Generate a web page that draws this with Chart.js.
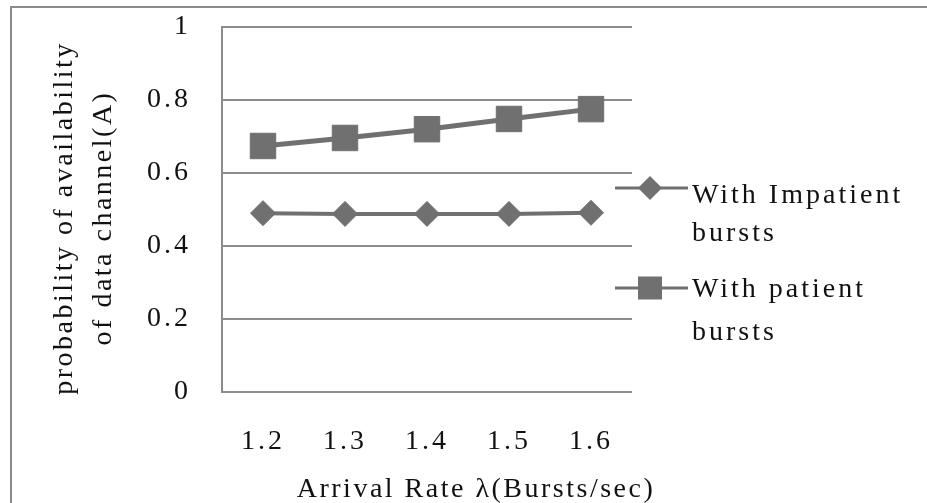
<!DOCTYPE html>
<html>
<head>
<meta charset="utf-8">
<script src="https://cdn.jsdelivr.net/npm/chart.js@4"></script>
<style>
  html, body { margin: 0; padding: 0; background: #fff; }
  canvas { display: block; }
</style>
</head>
<body>
<canvas id="chart" width="927" height="503"></canvas>
<script>
// Arrival rates (categories) and channel availability per burst type
const arrivalRates = ['1.2', '1.3', '1.4', '1.5', '1.6'];
const impatientValues = [0.490, 0.488, 0.488, 0.488, 0.491];
const patientValues = [0.674, 0.696, 0.720, 0.748, 0.775];
const seriesNames = [['With Impatient', 'bursts'], ['With patient', 'bursts']];
const yTitleLines = ['probability of availability', 'of data channel(A)'];
const xTitleText = 'Arrival Rate \u03bb(Bursts/sec)';

const FAMILY = "'Liberation Serif', 'Times New Roman', serif";
const TEXT = '#111';
const GRID = '#8c8c8c';
const MARK = '#707070';

const decorations = {
  id: 'decorations',
  beforeDraw(chart) {
    const ctx = chart.ctx;
    ctx.save();
    ctx.fillStyle = '#fff';
    ctx.fillRect(0, 0, chart.width, chart.height);
    ctx.restore();
    ctx.letterSpacing = '3px';
  },
  afterDraw(chart) {
    const ctx = chart.ctx;
    ctx.save();
    // outer frame
    ctx.strokeStyle = '#8a8a8a';
    ctx.lineWidth = 2;
    ctx.strokeRect(11, 7, 940, 520);

    ctx.fillStyle = TEXT;
    ctx.font = '28px ' + FAMILY;
    ctx.letterSpacing = '2.5px';
    ctx.textAlign = 'center';
    ctx.textBaseline = 'alphabetic';
    ctx.fillText(xTitleText, 476, 497);

    // rotated y title
    ctx.save();
    ctx.translate(72, 218);
    ctx.rotate(-Math.PI / 2);
    ctx.fillText(yTitleLines[0], 0, 0);
    ctx.fillText(yTitleLines[1], 0, 39);
    ctx.restore();

    // legend
    const items = [
      { y: 188, style: 'rectRot', baselines: [203, 241] },
      { y: 288, style: 'rect', baselines: [297, 340] }
    ];
    items.forEach((it, i) => {
      ctx.strokeStyle = MARK;
      ctx.lineWidth = 3;
      ctx.beginPath();
      ctx.moveTo(615, it.y);
      ctx.lineTo(688, it.y);
      ctx.stroke();
      ctx.fillStyle = MARK;
      ctx.beginPath();
      if (it.style === 'rect') {
        ctx.rect(638, it.y - 11.5, 24, 23);
      } else {
        ctx.moveTo(650, it.y - 12); ctx.lineTo(662, it.y);
        ctx.lineTo(650, it.y + 12); ctx.lineTo(638, it.y);
        ctx.closePath();
      }
      ctx.fill();
      ctx.fillStyle = TEXT;
      ctx.textAlign = 'left';
      ctx.letterSpacing = '3px';
      seriesNames[i].forEach((line, k) => ctx.fillText(line, 692, it.baselines[k]));
    });
    ctx.restore();
  }
};

function build() {
  new Chart(document.getElementById('chart'), {
    type: 'line',
    data: {
      labels: arrivalRates,
      datasets: [
        {
          label: seriesNames[0].join(' '),
          data: impatientValues,
          borderColor: MARK,
          backgroundColor: MARK,
          borderWidth: 4,
          pointStyle: 'rectRot',
          pointRadius: 12.5,
          pointBorderWidth: 1,
          tension: 0
        },
        {
          label: seriesNames[1].join(' '),
          data: patientValues,
          borderColor: MARK,
          backgroundColor: MARK,
          borderWidth: 5,
          pointStyle: 'rect',
          pointRadius: 18,
          pointBorderWidth: 1,
          tension: 0
        }
      ]
    },
    options: {
      responsive: false,
      animation: false,
      layout: { padding: { left: 0, top: 27, right: 295, bottom: 0 } },
      plugins: { legend: { display: false }, tooltip: { enabled: false } },
      scales: {
        x: {
          offset: true,
          grid: { display: false, drawTicks: false },
          border: { display: false },
          ticks: { color: TEXT, font: { family: FAMILY, size: 28 }, padding: 33, maxRotation: 0 },
          afterFit(scale) {
            scale.height = 111;
            scale.paddingLeft = 0; scale.paddingRight = 0;
          }
        },
        y: {
          min: 0,
          max: 1,
          ticks: {
            stepSize: 0.2,
            color: TEXT,
            font: { family: FAMILY, size: 28 },
            padding: 31,
            callback: v => String(Math.round(v * 10) / 10)
          },
          grid: { color: GRID, lineWidth: 2, drawTicks: false },
          border: { color: GRID, width: 2 },
          afterFit(scale) {
            scale.width = 222;
            scale.paddingTop = 0; scale.paddingBottom = 0;
          }
        }
      }
    },
    plugins: [decorations]
  });
}

if (document.fonts && document.fonts.load) {
  document.fonts.load("28px 'Liberation Serif'").then(build, build);
} else {
  build();
}
</script>
</body>
</html>
